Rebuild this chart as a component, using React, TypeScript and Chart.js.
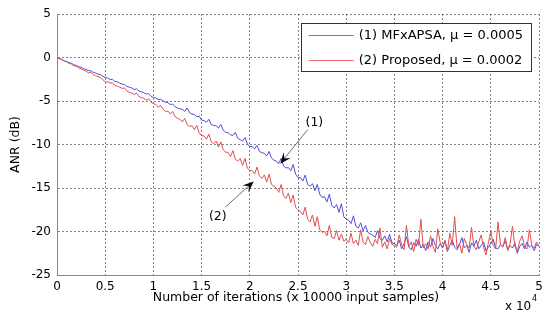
import React, { useEffect, useRef } from "react";
import { Chart, registerables } from "chart.js";

Chart.register(...registerables);

// Sampling grid of the learning curves (x 10^4 iterations)
const X_STEP = 0.025;
const X_MIN = 0;
const X_MAX = 5;
const X_TICK_STEP = 0.5;
const Y_MIN = -25;
const Y_MAX = 5;
const Y_TICK_STEP = 5;

const X_TITLE = "Number of iterations (x 10000 input samples)";
const Y_TITLE = "ANR (dB)";
const X_EXP_BASE = "x 10";
const X_EXP_POWER = "4";

const SERIES_LABELS = [
  "(1) MFxAPSA, \u03bc = 0.0005",
  "(2) Proposed, \u03bc = 0.0002",
];

// (1) MFxAPSA ANR in dB
const anrMFxAPSA = [
  0, -0.12, -0.22, -0.38, -0.45, -0.6, -0.66, -0.85, -0.9, -1.05, -1.12,
  -1.3, -1.35, -1.5, -1.52, -1.7, -1.78, -1.9, -1.95, -2.15, -2.3,
  -2.35, -2.55, -2.5, -2.75, -2.8, -2.95, -3.05, -3.1, -3.3, -3.42,
  -3.5, -3.7, -3.6, -3.85, -3.95, -4.05, -4.2, -4.15, -4.45, -4.6,
  -4.65, -4.85, -4.8, -5.0, -5.15, -5.2, -5.4, -5.35, -5.65, -5.8,
  -5.9, -5.95, -6.2, -5.8, -6.35, -6.5, -6.55, -6.8, -6.75, -7.2,
  -7.25, -7.45, -7.1, -7.7, -7.8, -7.85, -8.1, -7.7, -8.35, -8.6,
  -8.65, -8.9, -8.95, -8.6, -9.3, -9.45, -9.6, -9.2, -9.95, -10.2,
  -10.25, -10.5, -10.1, -10.8, -10.95, -11.0, -11.3, -10.8, -11.55, -11.8,
  -11.9, -12.2, -11.6, -12.45, -12.7, -12.65, -13.0, -12.3, -13.4, -13.8,
  -13.8, -14.2, -13.5, -14.6, -14.8, -14.5, -15.3, -14.6, -15.7, -16.1,
  -16.0, -16.6, -15.7, -17.0, -17.3, -16.9, -17.8, -16.8, -18.3, -18.6,
  -18.7, -19.1, -18.2, -19.4, -19.6, -19.0, -19.9, -19.3, -20.1, -20.3,
  -20.4, -20.7, -19.9, -20.8, -21.0, -20.5, -21.2, -20.3, -21.3, -21.4,
  -21.6, -21.0, -22.0, -21.4, -20.6, -21.8, -22.1, -21.3, -21.7, -20.9,
  -21.9, -21.5, -22.2, -21.2, -21.8, -20.8, -21.6, -22.0, -21.4, -21.9,
  -21.1, -22.3, -21.6, -21.0, -21.8, -22.1, -21.5, -20.7, -21.9, -21.6,
  -22.4, -21.3, -21.7, -21.0, -22.0, -21.6, -21.2, -22.2, -21.8, -21.4,
  -20.9, -21.9, -22.0, -21.5, -21.7, -21.1, -22.1, -21.6, -21.9, -21.3,
  -22.5, -21.7, -21.4, -22.0, -21.2, -21.8, -21.6, -22.2, -21.5, -21.7,
];

// (2) Proposed ANR in dB
const anrProposed = [
  0, -0.15, -0.25, -0.42, -0.5, -0.68, -0.75, -0.95, -1.0, -1.2, -1.3,
  -1.45, -1.55, -1.75, -1.7, -1.95, -2.1, -2.2, -2.3, -2.55, -2.8,
  -2.8, -2.95, -2.9, -3.2, -3.3, -3.4, -3.55, -3.5, -3.85, -4.0,
  -4.1, -4.25, -4.1, -4.5, -4.6, -4.7, -4.9, -4.75, -5.15, -5.3,
  -5.4, -5.7, -5.5, -5.95, -6.2, -6.15, -6.5, -6.2, -6.8, -7.0,
  -7.1, -7.4, -7.0, -7.7, -7.9, -7.85, -8.3, -7.8, -8.7, -9.0,
  -9.0, -9.4, -8.8, -9.7, -9.9, -9.6, -10.3, -9.7, -10.6, -10.9,
  -10.9, -11.4, -10.7, -11.7, -11.9, -11.6, -12.4, -11.6, -12.7, -13.0,
  -13.0, -13.4, -12.6, -13.6, -13.9, -13.5, -14.3, -13.4, -14.6, -14.8,
  -15.0, -15.5, -14.6, -15.9, -16.2, -15.6, -16.7, -15.8, -17.2, -17.5,
  -17.7, -18.1, -17.2, -18.6, -18.9, -18.1, -19.4, -18.3, -19.8, -20.1,
  -20.0, -20.5, -19.3, -20.7, -20.8, -19.9, -21.0, -20.3, -21.1, -20.9,
  -21.3, -20.2, -21.4, -21.0, -21.6, -19.8, -21.2, -21.5, -20.6, -21.3,
  -21.7, -20.9, -21.4, -19.6, -21.8, -21.2, -22.0, -20.8, -21.5, -21.6,
  -21.8, -20.4, -21.5, -22.1, -19.3, -21.7, -21.2, -22.3, -20.9, -21.6,
  -18.6, -21.9, -21.4, -22.0, -20.5, -21.7, -22.4, -19.7, -21.3, -21.8,
  -21.0, -22.2, -20.2, -21.6, -18.3, -21.9, -21.4, -22.5, -20.8, -21.5,
  -21.9, -19.5, -21.7, -22.1, -21.2, -20.4, -21.8, -22.7, -21.3, -19.9,
  -21.6, -22.0, -18.9, -21.5, -21.8, -20.7, -22.2, -21.4, -19.4, -21.7,
  -22.3, -21.1, -20.5, -21.8, -22.0, -19.8, -21.6, -21.9, -21.2, -21.7,
];

// Arrow annotations in data units
const ANNOTATION_TEXT = ["(1)", "(2)"];
const ANNOTATION_TEXT_X = [2.67, 1.668];
const ANNOTATION_TEXT_Y = [-7.45, -18.3];
const ANNOTATION_FROM_X = [2.6, 1.746];
const ANNOTATION_FROM_Y = [-8.3, -17.2];
const ANNOTATION_TO_X = [2.316, 2.04];
const ANNOTATION_TO_Y = [-12.2, -14.25];

const FONT = "'DejaVu Sans', 'Liberation Sans', Arial, sans-serif";
const BLUE = "rgb(78,78,222)";
const RED = "rgb(226,78,78)";
const LEGEND_BLUE = "rgb(110,110,235)";
const LEGEND_RED = "rgb(240,105,105)";

const toPoints = (arr: number[]) => arr.map((y, i) => ({ x: i * X_STEP, y }));

const overlayPlugin = {
  id: "matlabOverlay",
  afterDatasetsDraw(chart: any) {
    const ctx: CanvasRenderingContext2D = chart.ctx;
    const area = chart.chartArea;
    const xs = chart.scales.x;
    const ys = chart.scales.y;
    ctx.save();

    // annotations
    for (let i = 0; i < ANNOTATION_TEXT.length; i++) {
      const fx = xs.getPixelForValue(ANNOTATION_FROM_X[i]);
      const fy = ys.getPixelForValue(ANNOTATION_FROM_Y[i]);
      const tx = xs.getPixelForValue(ANNOTATION_TO_X[i]);
      const ty = ys.getPixelForValue(ANNOTATION_TO_Y[i]);
      const dx = tx - fx;
      const dy = ty - fy;
      const len = Math.hypot(dx, dy);
      const ux = dx / len;
      const uy = dy / len;
      const nx = -uy;
      const ny = ux;
      const L = 11;
      const W = 4.5;
      ctx.strokeStyle = "rgb(110,110,110)";
      ctx.lineWidth = 1;
      ctx.beginPath();
      ctx.moveTo(fx, fy);
      ctx.lineTo(tx - ux * L * 0.6, ty - uy * L * 0.6);
      ctx.stroke();
      const bx = tx - ux * L;
      const by = ty - uy * L;
      ctx.fillStyle = "#000";
      ctx.beginPath();
      ctx.moveTo(tx, ty);
      ctx.lineTo(bx + nx * W, by + ny * W);
      ctx.lineTo(tx - ux * L * 0.6, ty - uy * L * 0.6);
      ctx.lineTo(bx - nx * W, by - ny * W);
      ctx.closePath();
      ctx.fill();

      ctx.font = `12.5px ${FONT}`;
      ctx.textAlign = "center";
      ctx.textBaseline = "middle";
      ctx.fillText(
        ANNOTATION_TEXT[i],
        xs.getPixelForValue(ANNOTATION_TEXT_X[i]),
        ys.getPixelForValue(ANNOTATION_TEXT_Y[i])
      );
    }

    // legend box
    ctx.font = `13px ${FONT}`;
    const tw = Math.max(...SERIES_LABELS.map((s) => ctx.measureText(s).width));
    const boxW = 58 + tw + 8;
    const boxH = 48;
    const boxR = area.right - 8;
    const boxL = boxR - boxW;
    const boxT = area.top + 9;
    ctx.fillStyle = "#fff";
    ctx.fillRect(boxL, boxT, boxW, boxH);
    ctx.strokeStyle = "#333";
    ctx.lineWidth = 1;
    ctx.strokeRect(Math.round(boxL) + 0.5, Math.round(boxT) + 0.5, Math.round(boxW), boxH);
    const colors = [LEGEND_BLUE, LEGEND_RED];
    SERIES_LABELS.forEach((lab, k) => {
      const cy = Math.round(boxT + 12 + k * 25) + 0.5;
      ctx.strokeStyle = colors[k];
      ctx.beginPath();
      ctx.moveTo(boxL + 8, cy);
      ctx.lineTo(boxL + 53, cy);
      ctx.stroke();
      ctx.fillStyle = "#000";
      ctx.textAlign = "left";
      ctx.textBaseline = "middle";
      ctx.fillText(lab, boxL + 58, cy);
    });

    // axis titles
    ctx.fillStyle = "#000";
    ctx.font = `12.5px ${FONT}`;
    ctx.textAlign = "center";
    ctx.textBaseline = "middle";
    ctx.fillText(X_TITLE, (area.left + area.right) / 2 - 2, area.bottom + 23);
    ctx.save();
    ctx.translate(16, (area.top + area.bottom) / 2);
    ctx.rotate(-Math.PI / 2);
    ctx.fillText(Y_TITLE, 0, 0);
    ctx.restore();

    // exponent
    ctx.textAlign = "left";
    ctx.font = `12px ${FONT}`;
    ctx.fillText(X_EXP_BASE, area.right - 34, area.bottom + 32);
    ctx.font = `8px ${FONT}`;
    ctx.fillText(X_EXP_POWER, area.right - 7, area.bottom + 24);

    ctx.restore();
  },
};

export default function App() {
  const ref = useRef<HTMLCanvasElement | null>(null);
  useEffect(() => {
    document.body.style.margin = "0";
    document.body.style.background = "#fff";
    const canvas = ref.current;
    if (!canvas) return;
    const gridColor = "rgba(90,90,90,0.75)";
    const chart = new Chart(canvas, {
      type: "line",
      data: {
        datasets: [
          {
            label: SERIES_LABELS[0],
            data: toPoints(anrMFxAPSA),
            borderColor: BLUE,
            borderWidth: 1,
            pointRadius: 0,
            tension: 0,
            order: 1,
          },
          {
            label: SERIES_LABELS[1],
            data: toPoints(anrProposed),
            borderColor: RED,
            borderWidth: 1,
            pointRadius: 0,
            tension: 0,
            order: 0,
          },
        ],
      },
      options: {
        responsive: false,
        animation: false,
        devicePixelRatio: 1,
        layout: { padding: { left: 0, right: 5, top: 14, bottom: 0 } },
        plugins: { legend: { display: false }, tooltip: { enabled: false } },
        scales: {
          x: {
            type: "linear",
            min: X_MIN,
            max: X_MAX,
            ticks: {
              stepSize: X_TICK_STEP,
              autoSkip: false,
              maxRotation: 0,
              padding: 5,
              color: "#000",
              font: { family: FONT, size: 12 },
              callback: (v: any) => `${+v}`,
            },
            grid: { color: gridColor, drawTicks: false, lineWidth: 1 },
            border: { display: true, color: "#888", width: 1, dash: [2, 2] },
            afterFit: (s: any) => {
              s.height = 45;
              s.paddingLeft = 0;
              s.paddingRight = 0;
            },
          },
          y: {
            type: "linear",
            min: Y_MIN,
            max: Y_MAX,
            ticks: {
              stepSize: Y_TICK_STEP,
              padding: 6,
              color: "#000",
              font: { family: FONT, size: 12 },
              callback: (v: any) => `${+v}`,
            },
            grid: { color: gridColor, drawTicks: false, lineWidth: 1 },
            border: { display: true, color: "#888", width: 1, dash: [2, 2] },
            afterFit: (s: any) => {
              s.width = 57;
              s.paddingTop = 0;
              s.paddingBottom = 0;
            },
          },
        },
      },
      plugins: [overlayPlugin],
    });
    return () => chart.destroy();
  }, []);
  return (
    <div style={{ width: 544, height: 320 }}>
      <canvas ref={ref} width={544} height={320} style={{ display: "block" }} />
    </div>
  );
}
